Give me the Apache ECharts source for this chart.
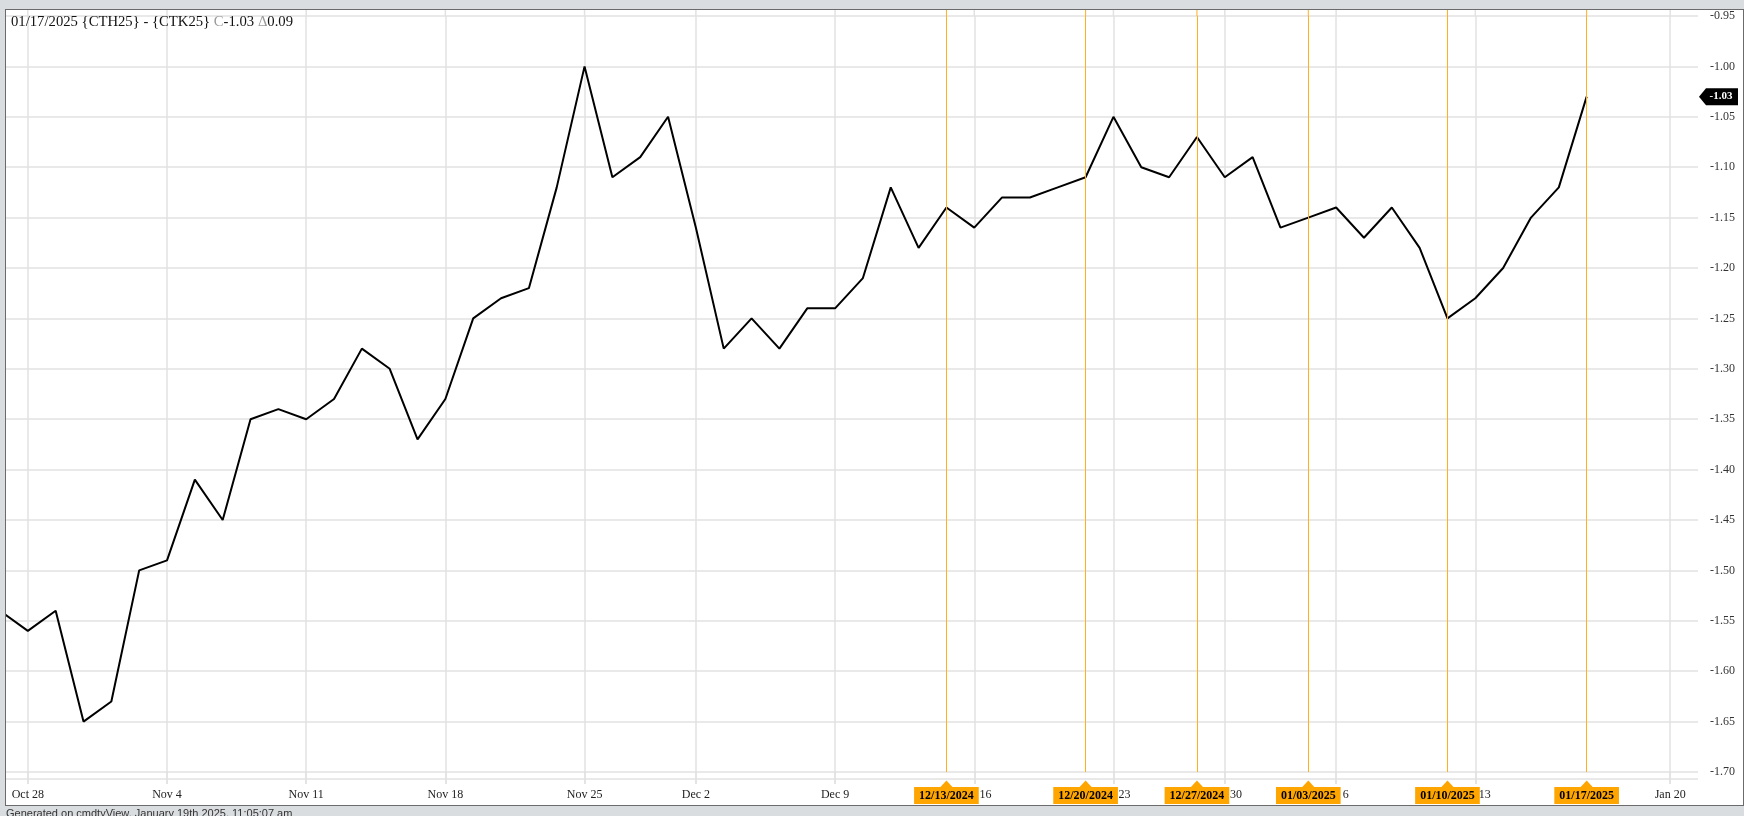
<!DOCTYPE html>
<html><head><meta charset="utf-8">
<script src="https://cdn.jsdelivr.net/npm/echarts@6/dist/echarts.min.js"></script>
<style>
html,body{margin:0;padding:0;background:#dadde0;overflow:hidden;}
#panel{position:absolute;left:5px;top:9px;width:1739px;height:797px;background:#fff;border:1px solid #6b6b6b;box-sizing:border-box;}
#chart{position:absolute;left:0;top:0;width:1744px;height:816px;}
#mask{position:absolute;left:0;top:9px;width:5px;height:797px;background:#dadde0;border-right:1px solid #6b6b6b;}
</style></head><body>
<div id="panel"></div><div id="chart"></div><div id="mask"></div>
<script>
// ---- data ----
const dates = [
 '2024-10-25','2024-10-28','2024-10-29','2024-10-30','2024-10-31','2024-11-01',
 '2024-11-04','2024-11-05','2024-11-06','2024-11-07','2024-11-08',
 '2024-11-11','2024-11-12','2024-11-13','2024-11-14','2024-11-15',
 '2024-11-18','2024-11-19','2024-11-20','2024-11-21','2024-11-22',
 '2024-11-25','2024-11-26','2024-11-27','2024-11-29',
 '2024-12-02','2024-12-03','2024-12-04','2024-12-05','2024-12-06',
 '2024-12-09','2024-12-10','2024-12-11','2024-12-12','2024-12-13',
 '2024-12-16','2024-12-17','2024-12-18','2024-12-19','2024-12-20',
 '2024-12-23','2024-12-24','2024-12-26','2024-12-27',
 '2024-12-30','2024-12-31','2025-01-02','2025-01-03',
 '2025-01-06','2025-01-07','2025-01-08','2025-01-09','2025-01-10',
 '2025-01-13','2025-01-14','2025-01-15','2025-01-16','2025-01-17',
 '2025-01-18','2025-01-19','2025-01-20','2025-01-21'
];
const values = [
 -1.54,-1.56,-1.54,-1.65,-1.63,-1.50,
 -1.49,-1.41,-1.45,-1.35,-1.34,
 -1.35,-1.33,-1.28,-1.30,-1.37,
 -1.33,-1.25,-1.23,-1.22,-1.12,
 -1.00,-1.11,-1.09,-1.05,
 -1.16,-1.28,-1.25,-1.28,-1.24,
 -1.24,-1.21,-1.12,-1.18,-1.14,
 -1.16,-1.13,-1.13,-1.12,-1.11,
 -1.05,-1.10,-1.11,-1.07,
 -1.11,-1.09,-1.16,-1.15,
 -1.14,-1.17,-1.14,-1.18,-1.25,
 -1.23,-1.20,-1.15,-1.12,-1.03
];
const tickDates  = ['2024-10-28','2024-11-04','2024-11-11','2024-11-18','2024-11-25','2024-12-02','2024-12-09','2024-12-16','2024-12-23','2024-12-30','2025-01-06','2025-01-13','2025-01-20'];
const tickLabels = ['Oct 28','Nov 4','Nov 11','Nov 18','Nov 25','Dec 2','Dec 9','Dec 16','Dec 23','Dec 30','Jan 6','Jan 13','Jan 20'];
const markerDates  = ['2024-12-13','2024-12-20','2024-12-27','2025-01-03','2025-01-10','2025-01-17'];
const markerLabels = ['12/13/2024','12/20/2024','12/27/2024','01/03/2025','01/10/2025','01/17/2025'];
const yMin = -1.70, yMax = -0.95, yStep = 0.05;
const footerText = 'Generated on cmdtyView, January 19th 2025, 11:05:07 am';

// ---- chart ----
const SERIF = 'Liberation Serif';
const lastVal = values[values.length - 1];
const prevVal = values[values.length - 2];
const lastDate = dates[values.length - 1];
const [yy, mm, dd] = lastDate.split('-');
const titleText = mm + '/' + dd + '/' + yy + ' {CTH25} - {CTK25} {g|C}' + lastVal.toFixed(2) + ' {g|\u0394}' + (lastVal - prevVal).toFixed(2);
const isTick = (idx, val) => tickDates.indexOf(val) >= 0;
const gridColor = '#e2e2e2';
const orange = '#FFB020';

const chart = echarts.init(document.getElementById('chart'), null, {renderer: 'canvas'});
chart.setOption({
  animation: false,
  backgroundColor: 'transparent',
  title: {
    text: titleText, left: 11, top: 15, padding: 0,
    textStyle: {fontFamily: SERIF, fontSize: 14.7, fontWeight: 'normal', color: '#111',
      rich: {g: {fontFamily: SERIF, fontSize: 14.7, color: '#9a9a9a'}}}
  },
  grid: {left: 0, right: 46, top: 16, bottom: 44, containLabel: false},
  xAxis: {
    type: 'category', data: dates, boundaryGap: false,
    axisLine: {show: false},
    axisTick: {show: true, interval: isTick, length: 12, lineStyle: {color: '#dcdcdc', width: 1.5}},
    axisLabel: {interval: isTick, margin: 17, fontFamily: SERIF, fontSize: 12, color: '#222',
      formatter: v => { const i = tickDates.indexOf(v); return i >= 0 ? tickLabels[i] : ''; }},
    splitLine: {show: true, interval: isTick, lineStyle: {color: gridColor, width: 1.5}}
  },
  yAxis: {
    type: 'value', position: 'right', min: yMin, max: yMax, interval: yStep, scale: true,
    axisLine: {show: false}, axisTick: {show: false},
    axisLabel: {margin: 12, fontFamily: SERIF, fontSize: 12, color: '#333', formatter: v => v.toFixed(2)},
    splitLine: {lineStyle: {color: gridColor, width: 1.5}}
  },
  series: [{
    type: 'line', data: values, symbol: 'none', clip: true,
    lineStyle: {color: '#000', width: 2}, z: 3,
    markLine: {
      silent: true, symbol: ['none', 'none'],
      lineStyle: {color: orange, width: 1, type: 'solid'},
      label: {show: true, position: 'start', distance: 15, formatter: p => p.name,
        backgroundColor: '#FFA500', color: '#000', fontWeight: 'bold', fontFamily: SERIF,
        fontSize: 12, padding: [3, 5, 2, 5]},
      emphasis: {disabled: true},
      data: markerDates.map((d, i) => ({xAxis: d, name: markerLabels[i]}))
    }
  }]
});

// decorations placed via the chart's own scales
const py = chart.convertToPixel({yAxisIndex: 0}, lastVal);
const yBottom = chart.convertToPixel({yAxisIndex: 0}, yMin);
const yTop = chart.convertToPixel({yAxisIndex: 0}, yMax);
const panelTop = 10;
const graphics = [];
graphics.push({type: 'line', z: 1, silent: true,
  shape: {x1: 5, y1: yBottom + 7, x2: 1698, y2: yBottom + 7}, style: {stroke: gridColor, lineWidth: 1.5}});
tickDates.forEach(d => {
  const px = chart.convertToPixel({xAxisIndex: 0}, d);
  graphics.push({type: 'line', z: 1, silent: true,
    shape: {x1: px, y1: panelTop, x2: px, y2: yTop}, style: {stroke: gridColor, lineWidth: 1.5}});
});
markerDates.forEach(d => {
  const px = chart.convertToPixel({xAxisIndex: 0}, d);
  graphics.push({type: 'line', z: 2, silent: true,
    shape: {x1: px, y1: panelTop, x2: px, y2: yTop}, style: {stroke: orange, lineWidth: 1}});
  graphics.push({type: 'polygon', z: 100, silent: true,
    shape: {points: [[px - 6, yBottom + 15], [px, yBottom + 8.5], [px + 6, yBottom + 15]]},
    style: {fill: '#FFA500'}});
});
graphics.push({type: 'polygon', z: 100, silent: true,
  shape: {points: [[1699, py], [1706, py - 8.5], [1738, py - 8.5], [1738, py + 8.5], [1706, py + 8.5]]},
  style: {fill: '#000'}});
graphics.push({type: 'text', z: 101, silent: true, x: 1721, y: py,
  style: {text: lastVal.toFixed(2), fill: '#fff', font: 'bold 11px "Liberation Serif"', align: 'center', verticalAlign: 'middle'}});
graphics.push({type: 'text', z: 101, silent: true, x: 6, y: 808,
  style: {text: footerText, fill: '#333', font: '11px "Liberation Sans"', align: 'left', verticalAlign: 'top'}});
chart.setOption({graphic: graphics});
</script>
</body></html>
